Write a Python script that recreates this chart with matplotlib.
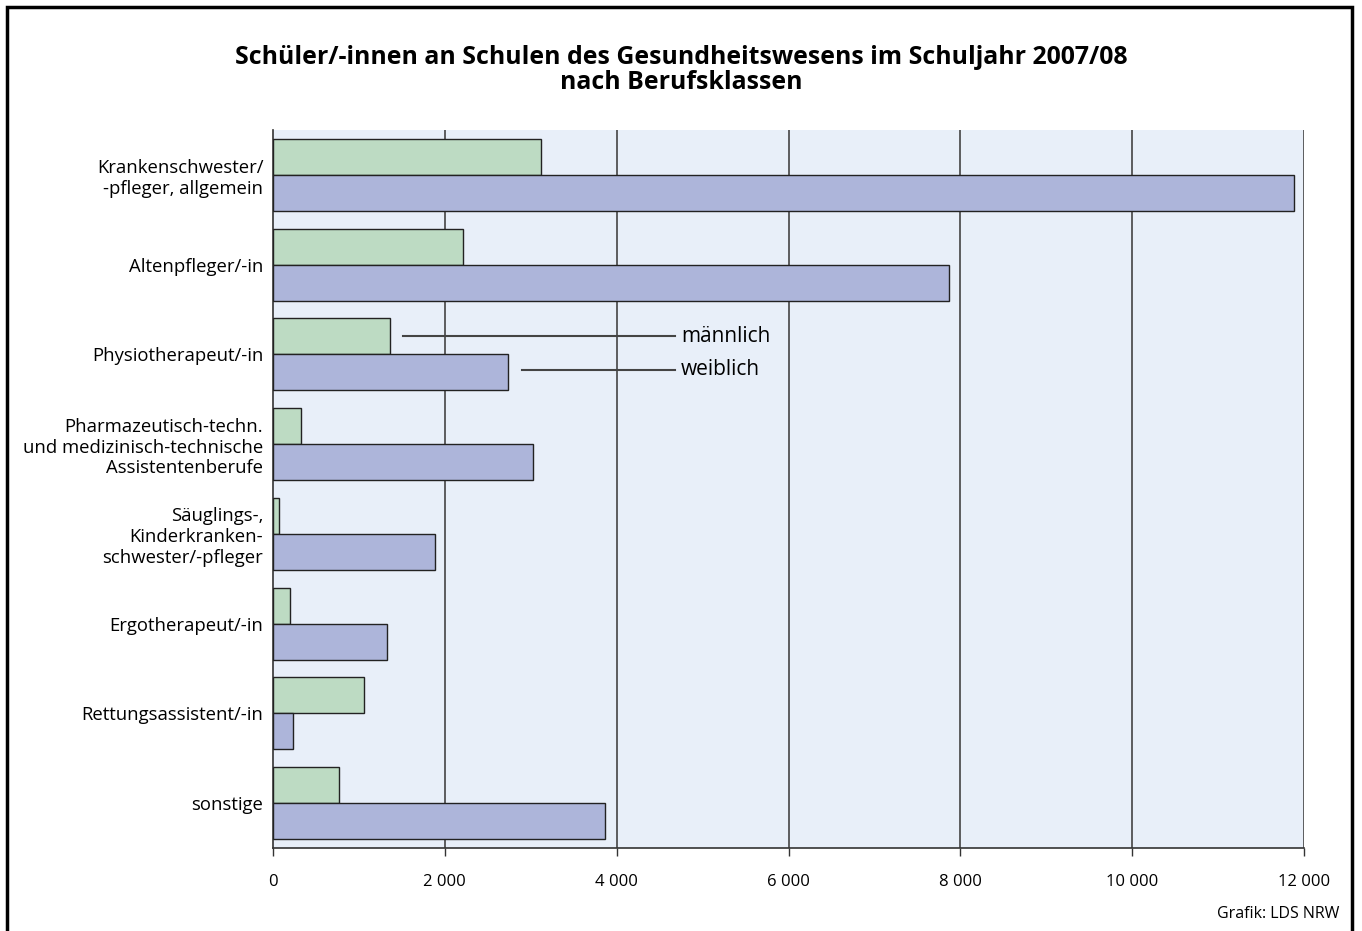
import numpy as np
import matplotlib as mpl
import matplotlib.pyplot as plt
from matplotlib.patches import Rectangle

mpl.rc('font', family=['Open Sans', 'DejaVu Sans'], size=12)

categories = [
    "Krankenschwester/\n-pfleger, allgemein",
    "Altenpfleger/-in",
    "Physiotherapeut/-in",
    "Pharmazeutisch-techn.\nund medizinisch-technische\nAssistentenberufe",
    "Säuglings-,\nKinderkranken-\nschwester/-pfleger",
    "Ergotherapeut/-in",
    "Rettungsassistent/-in",
    "sonstige",
]
maennlich = [3120, 2210, 1360, 330, 70, 200, 1060, 770]
weiblich = [11880, 7870, 2740, 3030, 1880, 1330, 230, 3870]
xticks = [0, 2000, 4000, 6000, 8000, 10000, 12000]
xticklabels = ["0", "2 000", "4 000", "6 000", "8 000", "10 000", "12 000"]

green = "#bddbc3"
purple = "#adb5da"
bg = "#e8eff9"

fig = plt.figure(figsize=(13.62, 9.31), dpi=100)
fig.patches.append(Rectangle((0.005, -0.01), 0.988, 1.002, transform=fig.transFigure,
                             fill=False, edgecolor="black", linewidth=2.5))

ax = fig.add_axes((273 / 1362, 1 - 848 / 931, 1031 / 1362, 718 / 931))
ax.set_facecolor(bg)

y = np.arange(len(categories))
h = 0.4
ax.barh(y - h / 2, maennlich, height=h, color=green, edgecolor="#222222", linewidth=1, zorder=3)
ax.barh(y + h / 2, weiblich, height=h, color=purple, edgecolor="#222222", linewidth=1, zorder=3)

ax.set_ylim(len(categories) - 0.5, -0.5)
ax.set_xlim(0, 12000)
ax.set_yticks(y)
ax.set_yticklabels(categories, fontsize=13.3, linespacing=1.2)
ax.tick_params(axis='y', length=0, pad=7)
ax.set_xticks(xticks)
ax.set_xticklabels(xticklabels, fontsize=12)
ax.tick_params(axis='x', direction='out', length=6, width=1, color="#333333", pad=13)

for xv in xticks[1:]:
    ax.axvline(xv, color="#444444", linewidth=1.2, zorder=2)

for side in ['top', 'right']:
    ax.spines[side].set_visible(False)
ax.spines['left'].set_color("#333333")
ax.spines['bottom'].set_color("#333333")
ax.spines['left'].set_linewidth(1.2)
ax.spines['bottom'].set_linewidth(1.2)

# labels for the two series
ym = 2 - h / 2
yw = 2 + h / 2 - 0.03
ax.plot([1510, 4680], [ym, ym], color="#444444", linewidth=1.5, zorder=4)
ax.plot([2900, 4680], [yw, yw], color="#444444", linewidth=1.5, zorder=4)
ax.text(4750, ym, "männlich", fontsize=15, va='center', ha='left', zorder=5)
ax.text(4750, yw, "weiblich", fontsize=15, va='center', ha='left', zorder=5)

fig.text(0.5, 1 - 70 / 931, "Schüler/-innen an Schulen des Gesundheitswesens im Schuljahr 2007/08\nnach Berufsklassen",
         ha='center', va='center', fontsize=17.9, fontweight='bold', linespacing=1.05)
fig.text(1 - 23 / 1362, 1 - 914 / 931, "Grafik: LDS NRW", ha='right', va='center', fontsize=11.5)

fig.savefig("out.png", dpi=100)
